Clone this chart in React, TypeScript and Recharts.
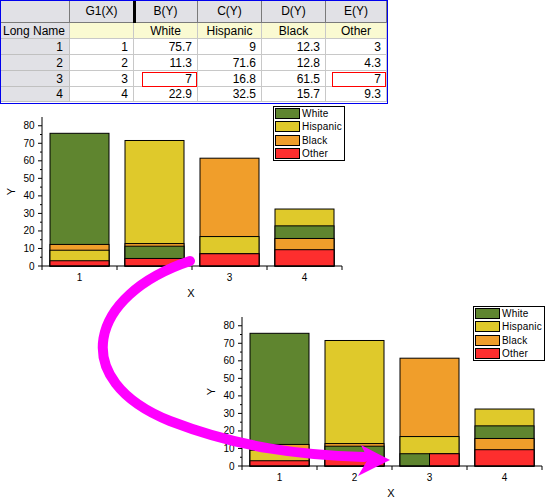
import React from 'react';
import { BarChart, Bar, XAxis, YAxis, Legend, Label } from 'recharts';

// ---------- data ----------
const categories = ['1', '2', '3', '4'];
const seriesNames = ['White', 'Hispanic', 'Black', 'Other'];
const seriesColors = ['#5f852f', '#dfc92b', '#f09e2b', '#fd2e2e'];
const white = [75.7, 11.3, 7, 22.9];
const hispanic = [9, 71.6, 16.8, 32.5];
const black = [12.3, 12.8, 61.5, 15.7];
const other = [3, 4.3, 7, 9.3];
const yTicks = [0, 5, 10, 15, 20, 25, 30, 35, 40, 45, 50, 55, 60, 65, 70, 75, 80];
const columnHeaders = ['G1(X)', 'B(Y)', 'C(Y)', 'D(Y)', 'E(Y)'];
const longNameLabel = 'Long Name';
const highlighted = [{ col: 1, row: 2 }, { col: 4, row: 2 }];

const seriesValues = [white, hispanic, black, other];
const FONT = "'Liberation Sans', Arial, sans-serif";

// layers: per category, series sorted by value (largest drawn first, behind)
function buildLayers() {
  return categories.map((c, i) => {
    const order = seriesValues
      .map((s, k) => ({ k, v: s[i] }))
      .sort((a, b) => b.v - a.v || a.k - b.k);
    const row: any = { x: c };
    order.forEach((o, j) => {
      row['l' + j] = o.v;
      row['c' + j] = seriesColors[o.k];
      row['t' + j] = j > 0 && order[j - 1].v === o.v;
    });
    return row;
  });
}

// ---------- chart geometry ----------
const PLOT_LEFT = 42;
const M_TOP = 12;
const PLOT_BOTTOM_GAP = 34;
const CH_H = 195;
const PLOT_W = 300;
const BAND = PLOT_W / categories.length;

const makeShape = (j: number, split: boolean) => (props: any) => {
  const { x, y, width, height, payload } = props;
  let bx = x;
  let bw = width;
  if (split && payload && payload['t' + j]) {
    bx = x + width / 2;
    bw = width / 2;
  }
  return (
    <rect
      x={bx}
      y={y}
      width={bw}
      height={height}
      fill={payload ? payload['c' + j] : '#ccc'}
      stroke="#000"
      strokeWidth={1}
    />
  );
};

const XTick = (props: any) => {
  const { x, y, payload, index } = props;
  const half = BAND / 2;
  return (
    <g>
      <line x1={x - half} x2={x - half} y1={y} y2={y + 4} stroke="#000" />
      {index === categories.length - 1 && (
        <line x1={x + half} x2={x + half} y1={y} y2={y + 4} stroke="#000" />
      )}
      <text x={x} y={y + 14.5} textAnchor="middle" fontSize={10} fontFamily={FONT} fill="#000">
        {payload.value}
      </text>
    </g>
  );
};

const YTick = (props: any) => {
  const { x, y, payload } = props;
  const major = payload.value % 10 === 0;
  return (
    <g>
      <line x1={x - (major ? 4 : 2)} x2={x} y1={y} y2={y} stroke="#000" />
      {major && (
        <text x={x - 7.5} y={y} dy="0.35em" textAnchor="end" fontSize={10} fontFamily={FONT} fill="#000">
          {payload.value}
        </text>
      )}
    </g>
  );
};

const LegendBox = () => (
  <div
    style={{
      width: 72,
      height: 55,
      border: '1px solid #000',
      background: '#fff',
      position: 'relative',
      boxSizing: 'border-box',
    }}
  >
    {seriesNames.map((n, i) => (
      <div
        key={n}
        style={{ position: 'absolute', left: 1, top: 1 + i * 13.3, display: 'flex', alignItems: 'center', height: 11 }}
      >
        <div
          style={{
            width: 25,
            height: 11,
            boxSizing: 'border-box',
            border: '1px solid #000',
            background: seriesColors[i],
          }}
        />
        <span style={{ marginLeft: 2, fontSize: 10, fontFamily: FONT, letterSpacing: 0.2, lineHeight: '11px', color: '#000' }}>
          {n}
        </span>
      </div>
    ))}
  </div>
);

function OverlapChart({ split, width }: { split: boolean; width: number }) {
  const data = buildLayers();
  const mRight = width - PLOT_LEFT - PLOT_W;
  const plotH = CH_H - M_TOP - PLOT_BOTTOM_GAP;
  return (
    <BarChart
      width={width}
      height={CH_H}
      data={data}
      margin={{ top: M_TOP, right: mRight, bottom: PLOT_BOTTOM_GAP - 1, left: PLOT_LEFT - 1 }}
    >
      {[0, 1, 2, 3].map((j) =>
        j === 0 ? (
          <XAxis
            key={j}
            xAxisId={j}
            dataKey="x"
            height={1}
            interval={0}
            tickSize={0}
            tickMargin={0}
            tickLine={false}
            axisLine={{ stroke: '#000' }}
            tick={<XTick />}
          >
            <Label
              content={() => (
                <text
                  x={PLOT_LEFT + PLOT_W / 2 - 1}
                  y={M_TOP + plotH + 27}
                  textAnchor="middle"
                  dominantBaseline="central"
                  fontSize={11}
                  fontFamily={FONT}
                  fill="#000"
                >
                  X
                </text>
              )}
            />
          </XAxis>
        ) : (
          <XAxis key={j} xAxisId={j} dataKey="x" hide height={0} />
        )
      )}
      <YAxis
        type="number"
        domain={[0, 85]}
        ticks={yTicks}
        interval={0}
        width={1}
        tickSize={0}
        tickMargin={0}
        tickLine={false}
        axisLine={{ stroke: '#000' }}
        tick={<YTick />}
      >
        <Label
          content={() => (
            <text
              x={11}
              y={M_TOP + plotH / 2}
              textAnchor="middle"
              dominantBaseline="central"
              fontSize={11}
              fontFamily={FONT}
              fill="#000"
              transform={`rotate(-90, 11, ${M_TOP + plotH / 2})`}
            >
              Y
            </text>
          )}
        />
      </YAxis>
      {[0, 1, 2, 3].map((j) => (
        <Bar
          key={'b' + j}
          xAxisId={j}
          dataKey={'l' + j}
          barSize={59}
          isAnimationActive={false}
          shape={makeShape(j, split)}
        />
      ))}
      <Legend
        layout="horizontal"
        verticalAlign="middle"
        align="center"
        content={<LegendBox />}
        wrapperStyle={{ left: 273, top: 1, width: 72, height: 55 }}
      />
    </BarChart>
  );
}

// ---------- worksheet ----------
const COLS = [0, 70, 134, 198, 262, 326, 387];
const ROWS = [0, 23, 39, 55, 71, 87, 102];
const GRAY = '#e1e1e6';
const YELLOW = '#fafad2';

function Cell({ c, r, bg, text, align, pad, borderColor }: any) {
  return (
    <div
      style={{
        position: 'absolute',
        left: COLS[c],
        top: ROWS[r],
        width: COLS[c + 1] - COLS[c],
        height: ROWS[r + 1] - ROWS[r],
        boxSizing: 'border-box',
        background: bg,
        borderRight: `1px solid ${borderColor}`,
        borderBottom: `1px solid ${borderColor}`,
        display: 'flex',
        alignItems: 'center',
        justifyContent: align === 'right' ? 'flex-end' : align === 'left' ? 'flex-start' : 'center',
        paddingRight: align === 'right' ? pad : 0,
        paddingLeft: align === 'left' ? pad : 0,
        fontFamily: FONT,
        fontSize: 12,
        color: '#000',
        whiteSpace: 'nowrap',
      }}
    >
      {text}
    </div>
  );
}

function Worksheet() {
  const cells: any[] = [];
  cells.push(<Cell key="h0" c={0} r={0} bg={GRAY} text="" align="center" borderColor="#7a7a7a" />);
  columnHeaders.forEach((h, i) =>
    cells.push(<Cell key={'h' + (i + 1)} c={i + 1} r={0} bg={GRAY} text={h} align="center" borderColor="#7a7a7a" />)
  );
  cells.push(<Cell key="ln0" c={0} r={1} bg={GRAY} text={longNameLabel} align="left" pad={3} borderColor="#c0c0c0" />);
  cells.push(<Cell key="ln1" c={1} r={1} bg={YELLOW} text="" align="center" borderColor="#c8c8c8" />);
  seriesNames.forEach((n, i) =>
    cells.push(<Cell key={'ln' + (i + 2)} c={i + 2} r={1} bg={YELLOW} text={n} align="center" borderColor="#c8c8c8" />)
  );
  categories.forEach((cat, ri) => {
    cells.push(<Cell key={'rh' + ri} c={0} r={ri + 2} bg={GRAY} text={String(ri + 1)} align="right" pad={6} borderColor="#c0c0c0" />);
    cells.push(<Cell key={'g' + ri} c={1} r={ri + 2} bg="#fff" text={cat} align="right" pad={5} borderColor="#c8c8c8" />);
    seriesValues.forEach((s, si) =>
      cells.push(
        <Cell key={'d' + ri + '-' + si} c={si + 2} r={ri + 2} bg="#fff" text={String(s[ri])} align="right" pad={5} borderColor="#c8c8c8" />
      )
    );
  });
  return (
    <div style={{ position: 'absolute', left: 0, top: 0, width: 388, height: 104 }}>
      {cells}
      <div style={{ position: 'absolute', left: 133, top: 0, width: 3, height: 23, background: '#000' }} />
      {highlighted.map((h, i) => (
        <div
          key={'hl' + i}
          style={{
            position: 'absolute',
            left: COLS[h.col + 1] + (h.col === 1 ? 8 : 6),
            top: ROWS[h.row + 2] + 1,
            width: COLS[h.col + 2] - COLS[h.col + 1] - (h.col === 1 ? 9 : 7),
            height: 15,
            boxSizing: 'border-box',
            border: '1px solid #ff0000',
          }}
        />
      ))}
      <div
        style={{
          position: 'absolute',
          left: 0,
          top: 0,
          width: 388,
          height: 104,
          boxSizing: 'border-box',
          border: '1px solid #0000ee',
        }}
      />
    </div>
  );
}

export default function App() {
  return (
    <div style={{ position: 'absolute', left: 0, top: 0, width: 547, height: 498, background: '#fff', overflow: 'hidden' }}>
      <Worksheet />
      <div style={{ position: 'absolute', left: 0, top: 105 }}>
        <OverlapChart split={false} width={350} />
      </div>
      <div style={{ position: 'absolute', left: 200, top: 305 }}>
        <OverlapChart split={true} width={347} />
      </div>
      <svg
        width={547}
        height={498}
        style={{ position: 'absolute', left: 0, top: 0, pointerEvents: 'none' }}
      >
        <path
          d="M190,261 C88,295 68,380 170,421 C240,448 300,455 364,457"
          fill="none"
          stroke="#ff00ff"
          strokeWidth={10}
          strokeLinecap="round"
        />
        <polygon points="361,445 390,460 358,476 368,459" fill="#ff00ff" />
      </svg>
    </div>
  );
}
